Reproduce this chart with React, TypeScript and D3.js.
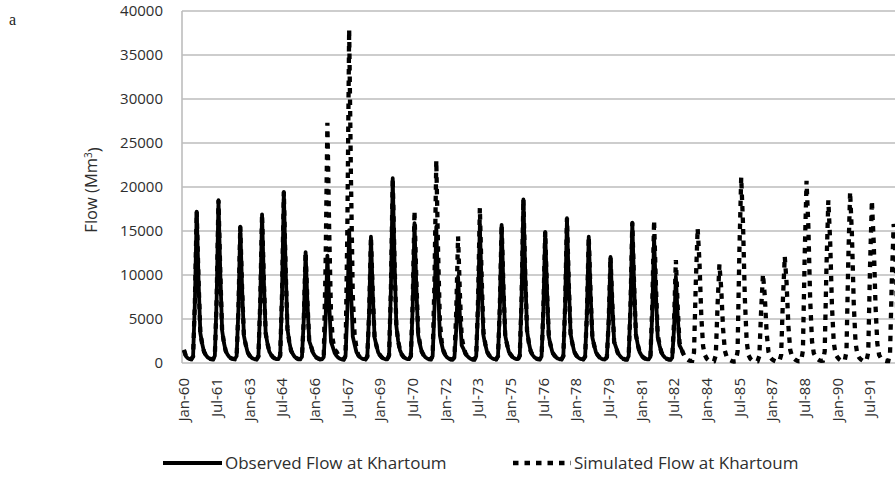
import React from "react";
import * as d3 from "d3";

// Observed monthly flow at Khartoum (Mm³), one row per year 1960–1982, Jan..Dec
const observed: number[][] = [
  [1500, 800, 550, 450, 430, 750, 6900, 17200, 9500, 3400, 2200, 1300],
  [900, 650, 520, 430, 420, 820, 7400, 18500, 10200, 3700, 2300, 1350],
  [950, 680, 540, 460, 440, 780, 6200, 15500, 8500, 3100, 2100, 1250],
  [880, 640, 500, 420, 410, 760, 6800, 16900, 9300, 3400, 2200, 1300],
  [920, 660, 520, 440, 430, 850, 7800, 19450, 10700, 3900, 2400, 1400],
  [1000, 700, 540, 450, 440, 700, 5000, 12600, 6900, 2500, 1900, 1200],
  [850, 620, 500, 420, 410, 680, 4900, 12200, 6700, 2400, 1800, 1150],
  [820, 600, 480, 410, 400, 760, 6000, 15100, 8300, 3000, 2100, 1250],
  [900, 650, 510, 430, 420, 720, 5700, 14350, 7900, 2900, 2000, 1200],
  [880, 640, 500, 420, 410, 880, 8400, 21000, 11500, 4200, 2500, 1450],
  [950, 680, 530, 440, 430, 780, 6400, 15900, 8700, 3200, 2100, 1250],
  [900, 650, 510, 430, 420, 770, 6200, 15500, 8500, 3100, 2100, 1250],
  [880, 630, 490, 410, 400, 600, 3900, 9800, 5400, 2000, 1600, 1050],
  [800, 600, 470, 400, 390, 770, 6300, 15700, 8600, 3100, 2100, 1250],
  [900, 650, 510, 430, 420, 770, 6300, 15700, 8600, 3100, 2100, 1250],
  [950, 680, 530, 440, 430, 830, 7400, 18600, 10200, 3700, 2300, 1350],
  [920, 660, 520, 430, 420, 740, 6000, 14900, 8200, 3000, 2000, 1200],
  [880, 640, 500, 420, 410, 790, 6600, 16450, 9000, 3300, 2200, 1300],
  [900, 650, 510, 430, 420, 720, 5700, 14350, 7900, 2900, 2000, 1200],
  [870, 630, 490, 410, 400, 680, 4800, 12050, 6600, 2400, 1800, 1150],
  [850, 620, 480, 400, 390, 780, 6400, 15950, 8800, 3200, 2100, 1250],
  [880, 640, 500, 420, 410, 720, 5700, 14300, 7900, 2900, 2000, 1200],
  [860, 620, 480, 400, 390, 600, 3900, 9800, 5400, 2000, 1600, 1050],
];

// Simulated monthly flow at Khartoum (Mm³), one row per year 1960–1992
const simulated: number[][] = [
  [1450, 820, 560, 440, 420, 760, 6900, 17200, 9500, 3400, 2200, 1300],
  [920, 660, 520, 430, 420, 820, 7400, 18500, 10200, 3700, 2300, 1350],
  [950, 680, 540, 460, 440, 780, 6200, 15500, 8500, 3100, 2100, 1250],
  [880, 640, 500, 420, 410, 760, 6800, 16900, 9300, 3400, 2200, 1300],
  [920, 660, 520, 440, 430, 850, 7800, 19450, 10700, 3900, 2400, 1400],
  [1000, 700, 540, 450, 440, 700, 5000, 12600, 6900, 2500, 1900, 1200],
  [850, 620, 500, 420, 410, 700, 10900, 27300, 15000, 5500, 2600, 1500],
  [1300, 900, 600, 450, 420, 800, 15200, 37900, 20800, 7600, 3200, 1700],
  [900, 650, 510, 430, 420, 720, 5700, 14350, 7900, 2900, 2000, 1200],
  [880, 640, 500, 420, 410, 880, 8400, 21000, 11500, 4200, 2500, 1450],
  [950, 680, 530, 440, 430, 800, 6900, 17300, 9500, 3500, 2200, 1300],
  [900, 650, 510, 430, 420, 820, 9200, 23000, 12600, 4600, 2400, 1400],
  [900, 640, 500, 420, 410, 650, 5800, 14400, 7900, 2900, 1900, 1150],
  [820, 610, 480, 410, 400, 790, 7000, 17600, 9700, 3500, 2200, 1300],
  [900, 650, 510, 430, 420, 770, 6300, 15700, 8600, 3100, 2100, 1250],
  [950, 680, 530, 440, 430, 830, 7400, 18600, 10200, 3700, 2300, 1350],
  [920, 660, 520, 430, 420, 740, 6000, 14900, 8200, 3000, 2000, 1200],
  [880, 640, 500, 420, 410, 790, 6600, 16450, 9000, 3300, 2200, 1300],
  [900, 650, 510, 430, 420, 720, 5700, 14350, 7900, 2900, 2000, 1200],
  [870, 630, 490, 410, 400, 680, 4800, 12050, 6600, 2400, 1800, 1150],
  [850, 620, 480, 400, 390, 780, 6400, 15950, 8800, 3200, 2100, 1250],
  [880, 640, 500, 420, 410, 740, 6500, 16200, 8900, 3200, 2100, 1250],
  [860, 620, 480, 400, 390, 620, 4700, 11700, 6400, 2300, 1700, 1100],
  [700, 450, 300, 250, 250, 1200, 9200, 15300, 11500, 5400, 1900, 900],
  [500, 320, 220, 180, 200, 900, 6700, 11200, 8400, 3900, 1400, 700],
  [450, 300, 200, 170, 190, 1300, 12700, 21100, 15800, 7400, 2500, 900],
  [500, 320, 230, 190, 200, 800, 6100, 10100, 7600, 3500, 1300, 650],
  [420, 280, 200, 170, 190, 900, 7300, 12100, 9100, 4200, 1500, 750],
  [520, 340, 240, 200, 220, 1400, 12400, 20700, 15500, 7200, 2500, 1100],
  [700, 450, 300, 250, 260, 1300, 11100, 18500, 13900, 6500, 2300, 1000],
  [650, 420, 280, 230, 240, 1300, 11700, 19450, 14600, 6800, 2300, 950],
  [600, 400, 270, 220, 230, 1200, 11100, 18450, 13800, 6500, 2200, 900],
  [550, 380, 260, 210, 220, 1100, 9500, 15800, 11900, 5500, 1900, 850],
];

const startYear = 1960;
const tickLabels = [
  "Jan-60", "Jul-61", "Jan-63", "Jul-64", "Jan-66", "Jul-67", "Jan-69", "Jul-70",
  "Jan-72", "Jul-73", "Jan-75", "Jul-76", "Jan-78", "Jul-79", "Jan-81", "Jul-82",
  "Jan-84", "Jul-85", "Jan-87", "Jul-88", "Jan-90", "Jul-91",
];
const yTicks = [0, 5000, 10000, 15000, 20000, 25000, 30000, 35000, 40000];
const seriesNames = ["Observed Flow at Khartoum", "Simulated Flow at Khartoum"];

const W = 895;
const H = 477;
const plotLeft = 182;
const plotTop = 11;
const plotBottom = 363;
const firstX = 184;
const pxPerMonth = 1.815;

const FONT = "'Open Sans', 'DejaVu Sans', sans-serif";
const TEXT = "#2e2e2e";
const GRID = "#bdbdbd";
const DASH = "5.5,6";

type Pt = { date: Date; v: number };

function toPoints(rows: number[][]): Pt[] {
  const out: Pt[] = [];
  rows.forEach((row, yi) =>
    row.forEach((v, m) => out.push({ date: new Date(startYear + yi, m, 1), v }))
  );
  return out;
}

function parseLabel(s: string): Date {
  const [mon, yy] = s.split("-");
  return new Date(1900 + +yy, mon === "Jan" ? 0 : 6, 1);
}

export default function App() {
  const x0 = new Date(startYear, 0, 1);
  const monthsTo = (d: Date) =>
    (d.getFullYear() - x0.getFullYear()) * 12 + (d.getMonth() - x0.getMonth());
  const totalMonths = 400;
  const xScale = d3
    .scaleLinear()
    .domain([0, totalMonths])
    .range([firstX, firstX + totalMonths * pxPerMonth]);
  const x = (d: Date) => xScale(monthsTo(d));
  const y = d3.scaleLinear().domain([0, 40000]).range([plotBottom, plotTop]);

  const line = d3
    .line<Pt>()
    .x((d) => x(d.date))
    .y((d) => y(d.v))
    .curve(d3.curveLinear);

  const obsPts = toPoints(observed);
  const simPts = toPoints(simulated);

  return (
    <svg
      width={W}
      height={H}
      style={{ position: "absolute", left: 0, top: 0, background: "#fff" }}
    >
      <rect width={W} height={H} fill="#fff" />
      <text x={9} y={25} fontFamily="'Liberation Serif', 'DejaVu Serif', serif" fontSize={16} fill="#222">
        a
      </text>
      {yTicks.map((t) => (
        <g key={t}>
          <line x1={plotLeft} x2={W} y1={y(t)} y2={y(t)} stroke={GRID} strokeWidth={1.6} />
          <text
            x={163}
            y={y(t)}
            dy="0.36em"
            textAnchor="end"
            fontFamily={FONT}
            fontSize={15}
            fill={TEXT}
          >
            {t}
          </text>
        </g>
      ))}
      <line x1={plotLeft} x2={plotLeft} y1={plotTop} y2={plotBottom} stroke={GRID} strokeWidth={1.6} />
      <text
        transform={`translate(91,190) rotate(-90)`}
        textAnchor="middle"
        dy="0.35em"
        fontFamily={FONT}
        fontSize={16.5}
        fill={TEXT}
      >
        Flow (Mm<tspan dy="-0.45em" fontSize={10}>3</tspan>
        <tspan dy="0.45em">)</tspan>
      </text>
      {tickLabels.map((lab) => {
        const px = x(parseLabel(lab));
        return (
          <text
            key={lab}
            transform={`translate(${px},378) rotate(-90)`}
            textAnchor="end"
            dy="0.35em"
            fontFamily={FONT}
            fontSize={15}
            fill={TEXT}
          >
            {lab}
          </text>
        );
      })}
      <path
        d={line(simPts) || ""}
        fill="none"
        stroke="#000"
        strokeWidth={4.3}
        strokeDasharray={DASH}
      />
      <path d={line(obsPts) || ""} fill="none" stroke="#000" strokeWidth={3.8} strokeLinejoin="round" />
      {/* legend */}
      <line x1={163} x2={222} y1={463} y2={463} stroke="#000" strokeWidth={4} />
      <text x={225} y={463} dy="0.35em" fontFamily={FONT} fontSize={17} fill={TEXT}>
        {seriesNames[0]}
      </text>
      <line x1={513} x2={571} y1={463} y2={463} stroke="#000" strokeWidth={4.3} strokeDasharray={DASH} />
      <text x={574} y={463} dy="0.35em" fontFamily={FONT} fontSize={17} fill={TEXT}>
        {seriesNames[1]}
      </text>
    </svg>
  );
}
